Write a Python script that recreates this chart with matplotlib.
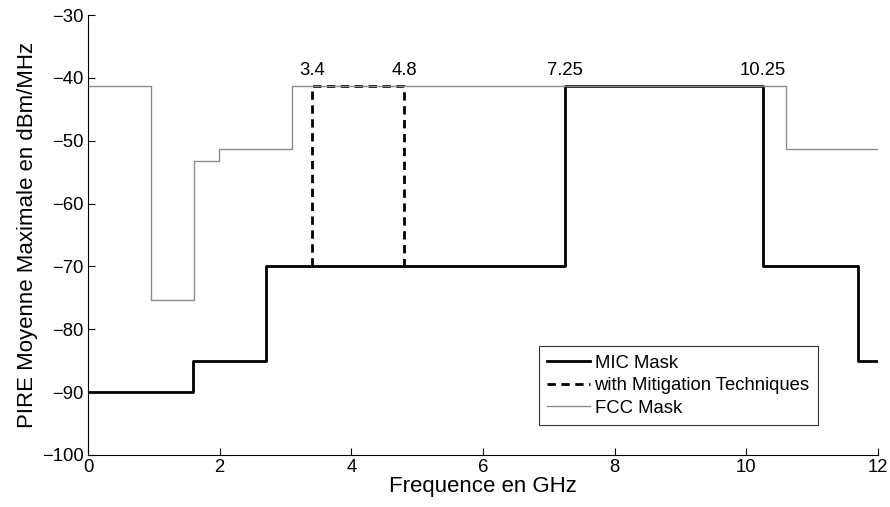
import matplotlib
matplotlib.use('Agg')
import matplotlib.pyplot as plt

# MIC mask (step edges in GHz, level in dBm/MHz)
mic_f = [0, 1.6, 2.7, 7.25, 10.25, 11.7, 12]
mic_p = [-90, -85, -70, -41.3, -70, -85, -85]

# mitigation techniques band
mit_f = [3.4, 3.4, 4.8, 4.8]
mit_p = [-70, -41.3, -41.3, -70]

# FCC indoor mask
fcc_f = [0, 0.96, 1.61, 1.99, 3.1, 10.6, 12]
fcc_p = [-41.3, -75.3, -53.3, -51.3, -41.3, -51.3, -51.3]

labels_f = [3.4, 4.8, 7.25, 10.25]
labels_txt = ['3.4', '4.8', '7.25', '10.25']

plt.rcParams['font.family'] = ['Liberation Sans', 'DejaVu Sans']
plt.rcParams['font.size'] = 13.3

fig = plt.figure(figsize=(8.9, 5.07), dpi=100)
ax = fig.add_axes([0.0989, 0.1026, 0.8876, 0.8678])

ax.step(mic_f, mic_p, where='post', color='black', lw=2, label='MIC Mask')
ax.plot(mit_f, mit_p, color='black', lw=2, ls=(0, (3, 2)), label='with Mitigation Techniques')
ax.step(fcc_f, fcc_p, where='post', color='#8c8c8c', lw=1, label='FCC Mask')

for f, t in zip(labels_f, labels_txt):
    ax.text(f, -39.55, t, ha='center', va='baseline', fontsize=13.3)

ax.set_xlim(0, 12)
ax.set_ylim(-100, -30)
ax.set_xticks(range(0, 13, 2))
ax.set_yticks(range(-100, -29, 10))
ax.set_yticklabels(['\u2212%d' % abs(v) for v in range(-100, -29, 10)])
ax.tick_params(direction='in', length=5, width=0.8, pad=3, labelsize=13.3)
ax.spines['top'].set_visible(False)
ax.spines['right'].set_visible(False)
ax.set_xlabel('Frequence en GHz', fontsize=16, labelpad=0)
ax.set_ylabel('PIRE Moyenne Maximale en dBm/MHz', fontsize=16, labelpad=3)

leg = ax.legend(loc='lower right', bbox_to_anchor=(0.924, 0.068), fontsize=13.3,
                frameon=True, fancybox=False, edgecolor='black',
                handlelength=2.3, borderpad=0.45, labelspacing=0.3,
                handletextpad=0.25, borderaxespad=0)
leg.get_frame().set_linewidth(0.8)

fig.savefig('out.png', dpi=100)
